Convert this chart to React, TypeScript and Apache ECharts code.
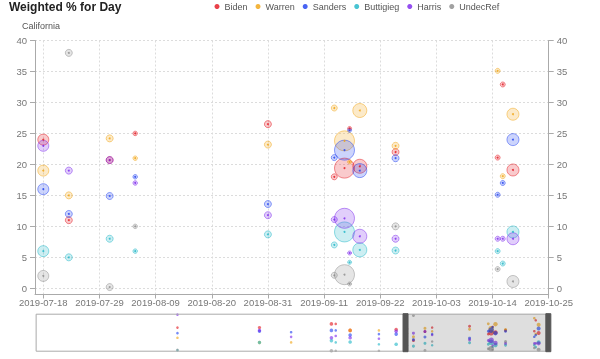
import React, { useEffect, useRef } from 'react';
import * as echarts from 'echarts';

// Poll dates (the earliest ones appear only in the overview strip)
const dates = [
  '2019-02-09', '2019-04-07', '2019-04-29', '2019-05-27', '2019-05-30', '2019-06-09',
  '2019-06-29', '2019-07-11', '2019-07-18', '2019-07-23', '2019-07-31', '2019-08-05',
  '2019-08-31', '2019-09-13', '2019-09-15', '2019-09-16', '2019-09-18', '2019-09-25',
  '2019-10-15', '2019-10-16', '2019-10-18',
];
// Poll weight (drives the bubble size)
const weights = [5, 9, 5, 10, 5, 10, 5, 10, 11, 7, 7, 4.5, 7, 6, 20, 4, 14, 7, 5, 5, 12];

const biden = [25, 25, null, 29, 29, 22, null, 23, 24, 11, 20.7, 25, 26.5, 18, 19.4, 25.8, 19.7, 22, 21.1, 32.9, 19.1];
const warren = [14, 9, 9, null, null, 22, 22, null, 19, 15, 24.2, 21, 23.2, 29.1, 23.8, 20.4, 28.7, 23, 35.1, 18.1, 28.1];
const sanders = [19, 21, 20, 22, 22, 17, 18, 18, 16, 12, 14.9, 18, 13.6, 21.1, 22.3, 25.5, 19, 21, 15.1, 17, 24];
const buttigieg = [0.5, 9, null, 11, 9, 9.5, 7, 7, 6, 5, 8, 6, 8.7, 7, 9.1, 4.2, 6.2, 6.1, 6, 4, 9.1];
const harris = [39, 22, 15, 14, 16, 14, 13, 21, 23, 19, 20.7, 17, 11.8, 11.1, 11.3, 5.7, 8.4, 8, 8, 8, 8];
const undecRef = [1, null, null, 0, 0, null, 0, null, 2, 38, 0.2, 10, null, 2.1, 2.2, 0.7, null, 10, 3.1, null, 1.1];

const candidates = ['Biden', 'Warren', 'Sanders', 'Buttigieg', 'Harris', 'UndecRef'];
const candidateValues = [biden, warren, sanders, buttigieg, harris, undecRef];

const xTickLabels = [
  '2019-07-18', '2019-07-29', '2019-08-09', '2019-08-20', '2019-08-31',
  '2019-09-11', '2019-09-22', '2019-10-03', '2019-10-14', '2019-10-25',
];
const yTickLabels = [0, 5, 10, 15, 20, 25, 30, 35, 40];

const colors = ['#e3121b', '#f0a20e', '#1b3df0', '#1cb5c7', '#7a23ec', '#8a8a8a'];

const ts = (s: string) => Date.parse(s + 'T00:00:00Z');
const FULL_START = ts('2018-11-02');
const WINDOW_START = Date.parse('2019-07-16T09:00:00Z');
const X_MAX = ts('2019-10-25');

function rgba(hex: string, a: number) {
  const n = parseInt(hex.slice(1), 16);
  return `rgba(${(n >> 16) & 255},${(n >> 8) & 255},${n & 255},${a})`;
}

const FONT = 'Helvetica, Arial, "Liberation Sans", sans-serif';

export default function App() {
  const ref = useRef<HTMLDivElement>(null);
  useEffect(() => {
    if (!ref.current) return;
    const chart = echarts.init(ref.current, null, { renderer: 'svg' });

    const series: any[] = [];
    candidates.forEach((name, i) => {
      const vals = candidateValues[i];
      const pts = dates
        .map((d, k) => (vals[k] == null ? null : [ts(d), vals[k], weights[k]]))
        .filter((p) => p !== null);
      series.push({
        type: 'scatter', name, xAxisIndex: 0, yAxisIndex: 0, data: pts,
        symbolSize: 2, z: 4, itemStyle: { color: colors[i] },
      });
      series.push({
        type: 'scatter', name, xAxisIndex: 0, yAxisIndex: 0, data: pts,
        symbolSize: (v: number[]) => v[2], z: 3,
        itemStyle: { color: rgba(colors[i], 0.28), borderColor: rgba(colors[i], 0.6), borderWidth: 1 },
      });
      series.push({
        type: 'scatter', name, xAxisIndex: 1, yAxisIndex: 2, data: pts,
        symbolSize: (v: number[]) => 1.6 + v[2] * 0.2, z: 2, silent: true,
        itemStyle: { color: rgba(colors[i], 0.75) },
      });
    });

    const xVals = xTickLabels.map(ts);
    const fmt = (v: number) => new Date(v).toISOString().slice(0, 10);

    chart.setOption({
      animation: false,
      textStyle: { fontFamily: FONT },
      title: [
        { text: 'Weighted % for Day', left: 9, top: 1, padding: 0,
          textStyle: { fontSize: 12, fontWeight: 'bold', color: '#222', fontFamily: FONT } },
        { text: 'California', left: 22, top: 21, padding: 0,
          textStyle: { fontSize: 9, fontWeight: 'normal', color: '#555', fontFamily: FONT } },
      ],
      legend: {
        data: candidates, left: 214.5, top: 2, padding: 0, icon: 'circle',
        itemWidth: 5, itemHeight: 5, itemGap: 8,
        textStyle: { fontSize: 9, color: '#555', fontFamily: FONT },
      },
      grid: [
        { left: 35, right: 51.3, top: 40.5, bottom: 64.5 },
        { left: 35, right: 51.3, top: 313.7, height: 38 },
      ],
      xAxis: [
        {
          type: 'value', gridIndex: 0, min: FULL_START, max: X_MAX,
          axisLine: { show: true, onZero: false, lineStyle: { color: '#aaa' } },
          axisTick: { show: true, customValues: xVals, length: 4, lineStyle: { color: '#aaa' } },
          axisLabel: { customValues: xVals, formatter: fmt, fontSize: 9.5, color: '#777', margin: 3, fontFamily: FONT },
          splitLine: { show: true, lineStyle: { color: '#dcdcdc', type: [2, 2] } },
        },
        { type: 'value', gridIndex: 1, min: FULL_START, max: X_MAX, show: false },
      ],
      yAxis: [
        {
          type: 'value', gridIndex: 0, min: -1, max: 40, position: 'left',
          axisLine: { show: true, lineStyle: { color: '#aaa' } },
          axisTick: { show: true, customValues: yTickLabels, length: 5, lineStyle: { color: '#aaa' } },
          axisLabel: { customValues: yTickLabels, fontSize: 9.5, color: '#777', margin: 8, fontFamily: FONT },
          splitLine: { show: true, lineStyle: { color: '#dcdcdc', type: [2, 2] } },
        },
        {
          type: 'value', gridIndex: 0, min: -1, max: 40, position: 'right',
          axisLine: { show: true, lineStyle: { color: '#aaa' } },
          axisTick: { show: true, customValues: yTickLabels, length: 5, lineStyle: { color: '#aaa' } },
          axisLabel: { customValues: yTickLabels, fontSize: 9.5, color: '#777', margin: 8, fontFamily: FONT },
          splitLine: { show: false },
        },
        { type: 'value', gridIndex: 1, min: -1, max: 40, show: false },
      ],
      dataZoom: [
        {
          type: 'slider', xAxisIndex: 0, startValue: WINDOW_START, endValue: X_MAX,
          left: 35, right: 51.3, top: 313.7, height: 38,
          showDataShadow: false, showDetail: false, brushSelect: false, moveHandleSize: 0,
          backgroundColor: 'rgba(0,0,0,0)', borderColor: '#aaa',
          fillerColor: 'rgba(0,0,0,0.13)',
          handleIcon: 'path://M0,0L5,0L5,38L0,38Z', handleSize: '100%',
          handleStyle: { color: '#555', borderColor: '#555' },
          filterMode: 'filter',
        },
      ],
      series,
    });
    return () => chart.dispose();
  }, []);
  return <div ref={ref} style={{ position: 'fixed', left: 0, top: 0, width: 600, height: 359 }} />;
}
